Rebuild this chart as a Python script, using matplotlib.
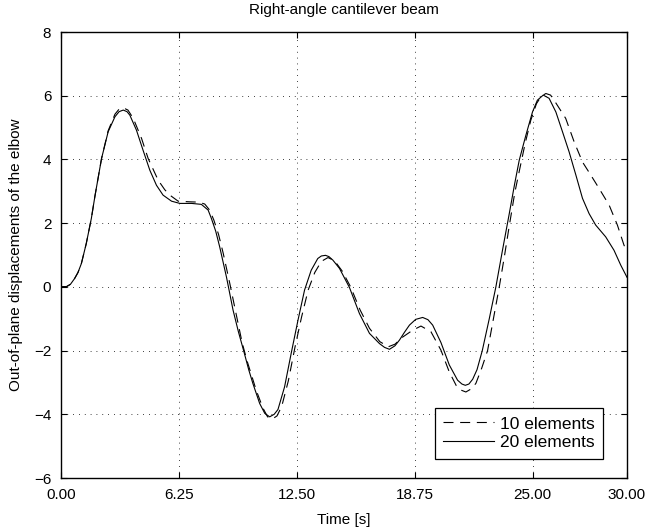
import matplotlib
matplotlib.use('Agg')
import matplotlib.pyplot as plt

#==================================================================================================
# Data
#==================================================================================================
# 20 elements (solid line)
t_20 = [0.0, 0.3, 0.5, 0.72, 0.9, 1.08, 1.34, 1.61, 1.8, 2.15, 2.5, 2.86, 3.08, 3.3, 3.5, 3.65,
        4.0, 4.35, 4.71, 5.06, 5.41, 5.86, 6.3, 6.92, 7.44, 7.8, 7.97, 8.2, 8.41, 8.77, 9.12,
        9.4, 9.68, 9.95, 10.17, 10.53, 10.8, 11.06, 11.3, 11.5, 11.85, 12.2, 12.56, 12.91,
        13.26, 13.61, 13.8, 14.02, 14.2, 14.41, 14.76, 15.29, 15.82, 16.35, 16.88, 17.15,
        17.41, 17.7, 17.94, 18.2, 18.47, 18.8, 19.17, 19.45, 19.7, 20.14, 20.58, 21.02, 21.25,
        21.43, 21.62, 21.82, 22.05, 22.33, 22.7, 23.05, 23.4, 23.76, 24.05, 24.29, 24.64,
        24.99, 25.25, 25.56, 25.87, 26.23, 26.58, 26.93, 27.29, 27.64, 27.99, 28.34, 28.87,
        29.31, 29.67, 30.0]
disp_20 = [0.0, 0.01, 0.08, 0.26, 0.45, 0.73, 1.36, 2.15, 2.85, 4.03, 4.87, 5.34, 5.5, 5.55, 5.5, 5.39,
           4.92, 4.29, 3.66, 3.19, 2.88, 2.69, 2.62, 2.62, 2.59, 2.41, 2.15, 1.75, 1.26, 0.31, -0.73,
           -1.4, -2.0, -2.6, -3.03, -3.66, -3.97, -4.08, -4.0, -3.85, -3.14, -2.09, -1.05, -0.1,
           0.52, 0.89, 0.97, 0.99, 0.95, 0.84, 0.58, -0.02, -0.84, -1.46, -1.78, -1.9,
           -1.96, -1.85, -1.67, -1.43, -1.2, -1.02, -0.96, -1.03, -1.2, -1.75, -2.45, -2.93, -3.05,
           -3.09, -3.05, -2.9, -2.6, -2.0, -1.0, 0.0, 1.15, 2.3, 3.25, 3.98, 4.76,
           5.49, 5.86, 6.02, 5.92, 5.49, 4.87, 4.24, 3.51, 2.78, 2.3, 1.94, 1.57,
           1.15, 0.68, 0.3]

# 10 elements (dashed line)
t_10 = [0.0, 0.3, 0.5, 0.72, 0.9, 1.08, 1.34, 1.61, 1.8, 2.15, 2.5, 2.86, 3.08, 3.3, 3.55, 3.83,
        4.27, 4.62, 5.15, 5.5, 5.77, 6.21, 6.82, 7.3, 7.62, 7.88, 8.1, 8.35, 8.6, 8.95, 9.3,
        9.6, 9.85, 10.35, 10.7, 10.95, 11.2, 11.45, 11.7, 12.05, 12.4, 12.75, 13.1, 13.45,
        13.8, 14.15, 14.5, 14.9, 15.35, 15.85, 16.35, 16.9, 17.35, 17.7, 18.1, 18.64, 19.08,
        19.61, 20.14, 20.58, 20.95, 21.2, 21.46, 21.75, 21.99, 22.3, 22.61, 22.92, 23.23,
        23.5, 23.75, 24.05, 24.3, 24.6, 24.9, 25.2, 25.45, 25.7, 25.95, 26.2, 26.75, 27.2,
        27.64, 28.08, 28.52, 29.05, 29.49, 29.84, 30.0]
disp_10 = [0.0, 0.01, 0.08, 0.26, 0.45, 0.73, 1.36, 2.15, 2.85, 4.03, 4.9, 5.42, 5.58, 5.62, 5.55, 5.29,
           4.66, 4.03, 3.35, 3.05, 2.88, 2.69, 2.67, 2.66, 2.6, 2.41, 2.1, 1.65, 1.05, 0.1, -0.9,
           -1.75, -2.3, -3.25, -3.8, -4.08, -4.15, -4.05, -3.75, -2.95, -1.9, -0.95, -0.1, 0.45,
           0.8, 0.92, 0.82, 0.5, 0.0, -0.72, -1.3, -1.72, -1.88, -1.8, -1.58, -1.36, -1.23,
           -1.41, -1.99, -2.67, -3.1, -3.24, -3.3, -3.2, -3.03, -2.55, -2.0, -1.0, 0.0,
           0.95, 1.88, 2.95, 3.66, 4.5, 5.23, 5.75, 5.98, 6.07, 6.02, 5.8, 5.29, 4.55,
           3.92, 3.51, 3.09, 2.57, 1.94, 1.31, 1.1]

x_ticks = [0.0, 6.25, 12.5, 18.75, 25.0, 30.0]
y_ticks = [-6, -4, -2, 0, 2, 4, 6, 8]

#==================================================================================================
# Plot
#==================================================================================================
plt.rcParams['font.family'] = ['Liberation Sans', 'DejaVu Sans']
plt.rcParams['font.size'] = 11

fig = plt.figure(figsize=(6.46, 5.32), dpi=100)
ax = fig.add_axes([0.0944, 0.1015, 0.8762, 0.8383])

ax.plot(t_10, disp_10, color='black', linewidth=0.8, linestyle=(0, (9, 6)), label='10 elements')
ax.plot(t_20, disp_20, color='black', linewidth=0.8, linestyle='-', label='20 elements')

ax.set_xlim(0, 30)
ax.set_ylim(-6, 8)
ax.set_xticks(x_ticks)
ax.set_xticklabels([f'{v:.2f}' for v in x_ticks])
ax.set_yticks(y_ticks)

ax.grid(True, color='black', linestyle=(0, (1, 6)), linewidth=0.6)
ax.tick_params(direction='in', top=True, right=True, length=4, width=0.8, pad=7)
for spine in ax.spines.values():
    spine.set_linewidth(1.0)

ax.set_title('Right-angle cantilever beam', fontsize=11, pad=13)
ax.set_xlabel('Time [s]', labelpad=8)
ax.set_ylabel('Out-of-plane displacements of the elbow', labelpad=8)

leg = ax.legend(loc='lower right', bbox_to_anchor=(0.958, 0.043), fancybox=False,
                edgecolor='black', framealpha=1, fontsize=12.5, handlelength=2.9,
                borderaxespad=0, borderpad=0.5, labelspacing=0.2, handletextpad=0.35)
leg.get_frame().set_linewidth(0.9)

plt.savefig('out.png', dpi=100)
